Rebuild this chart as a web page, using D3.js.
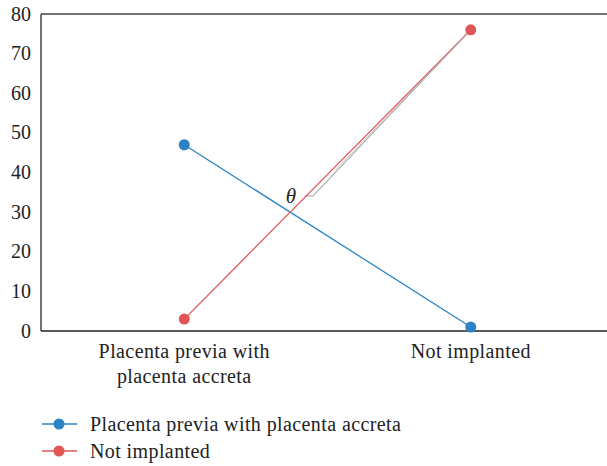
<!DOCTYPE html>
<html><head><meta charset="utf-8">
<script src="https://cdn.jsdelivr.net/npm/d3@7"></script>
<style>body{margin:0;background:#fff}svg{display:block}</style>
</head><body>
<script>
const categories = ["Placenta previa with placenta accreta", "Not implanted"];
const categoryLabels = [["Placenta previa with", "placenta accreta"], ["Not implanted"]];
const seriesNames = ["Placenta previa with placenta accreta", "Not implanted"];
const seriesAccreta = [47, 1];
const seriesNotImplanted = [3, 76];
const yTicks = [0, 10, 20, 30, 40, 50, 60, 70, 80];
const colors = ["#2b83c6", "#e05555"];

const W = 607, H = 466;
const m = {left: 41, top: 14, right: 614, bottom: 331};
const font = "'Liberation Serif', 'DejaVu Serif', serif";
const FS = 20, LS = 0.4;
const svg = d3.select("body").append("svg").attr("width", W).attr("height", H);

const x = d3.scaleBand().domain(categories).range([m.left, m.right]);
const y = d3.scaleLinear().domain([0, 80]).range([m.bottom, m.top]);

// frame
svg.append("line").attr("x1", m.left).attr("x2", m.right).attr("y1", m.top).attr("y2", m.top)
  .attr("stroke", "#444").attr("stroke-width", 1.5);
svg.append("line").attr("x1", m.left).attr("x2", m.left).attr("y1", m.top).attr("y2", m.bottom)
  .attr("stroke", "#444").attr("stroke-width", 1.5);
svg.append("line").attr("x1", m.left).attr("x2", m.right).attr("y1", m.bottom).attr("y2", m.bottom)
  .attr("stroke", "#222").attr("stroke-width", 1.5);

// y tick labels
svg.append("g").selectAll("text").data(yTicks).join("text")
  .attr("x", 31).attr("y", d => y(d)).attr("dy", "0.33em")
  .attr("text-anchor", "end").attr("font-family", font).attr("font-size", FS).attr("fill", "#222")
  .text(d => d);

// x labels
categories.forEach((c, i) => {
  const t = svg.append("text").attr("x", x(c) + x.bandwidth() / 2).attr("y", 358)
    .attr("text-anchor", "middle").attr("font-family", font).attr("font-size", FS)
    .attr("letter-spacing", LS).attr("fill", "#222");
  categoryLabels[i].forEach((l, j) => t.append("tspan").attr("x", x(c) + x.bandwidth() / 2).attr("dy", j ? 25 : 0).text(l));
});

const cx = c => x(c) + x.bandwidth() / 2;
const series = [seriesAccreta, seriesNotImplanted];
const line = d3.line().x((d, i) => cx(categories[i])).y(d => y(d));

// theta annotation (gray helper line)
const crossX = 305;
svg.append("path")
  .attr("d", `M${crossX},${y(34.1)} L${crossX + 8},${y(34.1)} L${cx(categories[1])},${y(seriesNotImplanted[1])}`)
  .attr("fill", "none").attr("stroke", "#b0b0b0").attr("stroke-width", 1.2);

series.forEach((s, k) => {
  svg.append("path").datum(s).attr("d", line).attr("fill", "none")
    .attr("stroke", colors[k]).attr("stroke-width", 1.3);
});
svg.append("path")
  .attr("d", `M${crossX + 30},${y(40.5)} L${cx(categories[1])},${y(seriesNotImplanted[1])}`)
  .attr("fill", "none").attr("stroke", "#b8b8b8").attr("stroke-width", 0.8);
series.forEach((s, k) => {
  svg.append("g").selectAll("circle").data(s).join("circle")
    .attr("cx", (d, i) => cx(categories[i])).attr("cy", d => y(d)).attr("r", 5.5).attr("fill", colors[k]);
});

svg.append("text").attr("x", 291).attr("y", 203).attr("text-anchor", "middle")
  .attr("font-family", font).attr("font-style", "italic").attr("font-size", 21).attr("fill", "#222").text("θ");

// legend
seriesNames.forEach((n, k) => {
  const yy = 424 + k * 27;
  svg.append("line").attr("x1", 42).attr("x2", 77).attr("y1", yy).attr("y2", yy)
    .attr("stroke", colors[k]).attr("stroke-width", 1.3);
  svg.append("circle").attr("cx", 59).attr("cy", yy).attr("r", 5.5).attr("fill", colors[k]);
  svg.append("text").attr("x", 90).attr("y", yy).attr("dy", "0.33em")
    .attr("font-family", font).attr("font-size", FS).attr("letter-spacing", LS).attr("fill", "#222").text(n);
});
</script>
</body></html>
